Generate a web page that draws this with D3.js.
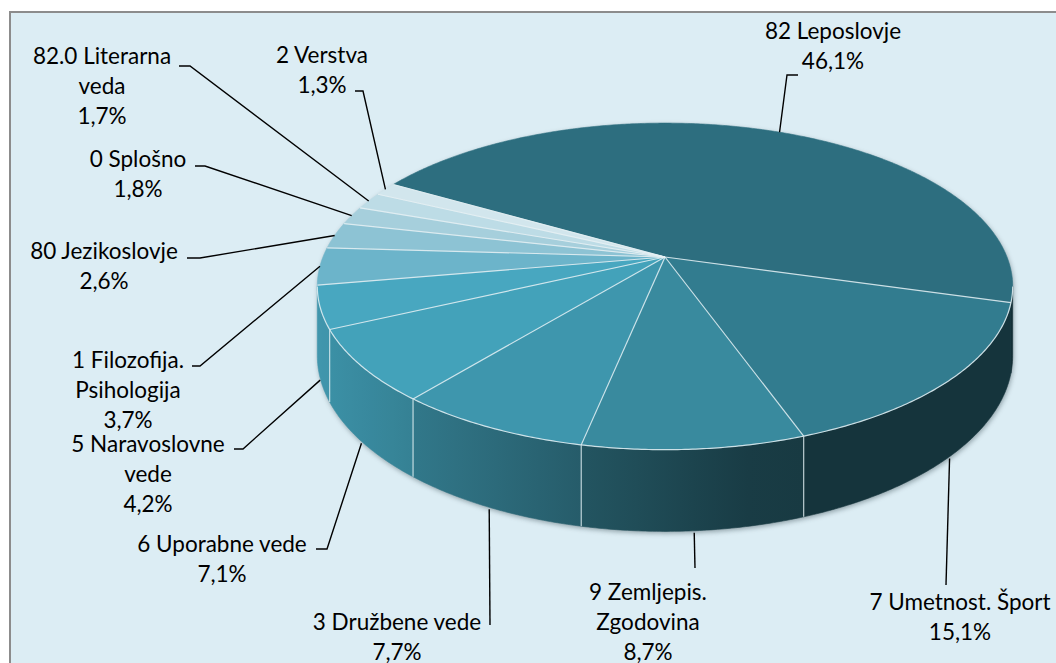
<!DOCTYPE html>
<html>
<head>
<meta charset="utf-8">
<script src="https://cdn.jsdelivr.net/npm/d3@7"></script>
<style>
  body { margin: 0; background: #fff; }
  svg { display: block; }
  .lbl { font-family: Lato, "Open Sans", sans-serif; font-size: 22.5px; fill: #000; }
</style>
</head>
<body>
<svg id="chart" width="1056" height="663"></svg>
<script>
// data, clockwise from the start angle
const categories = ["82 Leposlovje", "7 Umetnost. Šport", "9 Zemljepis. Zgodovina", "3 Družbene vede",
  "6 Uporabne vede", "5 Naravoslovne vede", "1 Filozofija. Psihologija", "80 Jezikoslovje",
  "0 Splošno", "82.0 Literarna veda", "2 Verstva"];
const shares = [46.1, 15.1, 8.7, 7.7, 7.1, 4.2, 3.7, 2.6, 1.8, 1.7, 1.3];

// palette (top face colours)
const palette = ["#2d6e7f", "#327c8f", "#398a9e", "#3e96ad", "#43a2ba", "#48a7c0",
  "#6cb4ca", "#8dc3d4", "#a6cfdc", "#bddce6", "#d2e6ed"];

// label layout: words on first line, text centre, first baseline, leader elbow + end
const labelLayout = [
  { words: 2, x: 833, y: 39, pts: [[787, 75], [798, 75]] },
  { words: 3, x: 960, y: 610, pts: [[946, 585]] },
  { words: 2, x: 648, y: 600, pts: [[695, 568]] },
  { words: 3, x: 397, y: 630, pts: [[490, 625]] },
  { words: 3, x: 222, y: 552, pts: [[327, 549], [316, 549]] },
  { words: 2, x: 148, y: 452, pts: [[243, 449], [234, 449]] },
  { words: 2, x: 128, y: 368, pts: [[200, 366], [192, 366]] },
  { words: 2, x: 104, y: 259, pts: [[200, 258], [187, 258]] },
  { words: 2, x: 138, y: 167, pts: [[205, 166], [195, 166]] },
  { words: 2, x: 102, y: 64, pts: [[190, 66], [179, 66]] },
  { words: 2, x: 322, y: 63, pts: [[363, 91], [355, 91]] }
];

const W = 1056, H = 663;
const CX = 665, CY = 257;      // apex of the slices
const A = 342, B = 158;        // radii of the top face
const P = 0.18;                // perspective
const T = 67;                  // thickness
const VIS0 = Math.acos(-P), VIS1 = 2 * Math.PI - Math.acos(-P); // visible side range

const svg = d3.select("#chart");
const defs = svg.append("defs");

svg.append("rect").attr("width", W).attr("height", H).attr("fill", "#fff");
svg.append("rect")
  .attr("x", 10).attr("y", 12).attr("width", W + 10).attr("height", H + 10)
  .attr("fill", "#dcedf4").attr("stroke", "#8c8c8c").attr("stroke-width", 2);

function proj(phi, h, r = 1) {
  const u = r * Math.sin(phi), v = -r * Math.cos(phi), k = 1 / (1 - P * v);
  return [CX + A * u * k, CY + (B * v + T * h) * k];
}
function arcPts(a0, a1, h) {
  const n = Math.max(2, Math.ceil(Math.abs(a1 - a0) / (Math.PI / 360)));
  return d3.range(n + 1).map(i => proj(a0 + (a1 - a0) * i / n, h));
}
const line = d3.line();

const pie = d3.pie().sort(null)
  .startAngle(-Math.PI / 3).endAngle(-Math.PI / 3 + 2 * Math.PI);
const arcs = pie(shares);

const fmt = d3.formatLocale({ decimal: ",", thousands: ".", grouping: [3], currency: ["", "€"] }).format(".1f");

// shade of side by horizontal position
const xL = proj(VIS1, 0)[0], xR = proj(VIS0, 0)[0];
const shadeAt = d3.scaleLinear().domain([xL, xL + 0.64 * (xR - xL), xR]).range([0.9, 0.42, 0.42]).clamp(true);
function shade(c, f) { const r = d3.rgb(c); return d3.rgb(r.r * f, r.g * f, r.b * f).formatHex(); }

// soft shadow of the body
defs.append("filter").attr("id", "blur").attr("x", "-10%").attr("y", "-10%").attr("width", "120%").attr("height", "120%")
  .append("feGaussianBlur").attr("stdDeviation", 2.5);
const bodyPts = arcPts(VIS0, VIS1, 1).concat(arcPts(VIS1, VIS0 + 2 * Math.PI, 0));
svg.append("path").attr("d", line(bodyPts) + "Z")
  .attr("transform", "translate(1,2)")
  .attr("fill", "#51646b").attr("opacity", 0.55).attr("filter", "url(#blur)");

// sides
const sides = svg.append("g");
arcs.forEach((d, i) => {
  let s = d.startAngle, e = d.endAngle;
  s = Math.max(s, VIS0); e = Math.min(e, VIS1);
  if (e <= s) return;
  const x1 = proj(s, 0)[0], x2 = proj(e, 0)[0];
  const g = defs.append("linearGradient").attr("id", "side" + i)
    .attr("gradientUnits", "userSpaceOnUse")
    .attr("x1", x1).attr("x2", x2).attr("y1", 0).attr("y2", 0);
  d3.range(5).forEach(j => {
    const x = x1 + (x2 - x1) * j / 4;
    g.append("stop").attr("offset", j / 4).attr("stop-color", shade(palette[i], shadeAt(x)));
  });
  const pts = arcPts(s, e, 0).concat(arcPts(e, s, 1));
  sides.append("path").attr("d", line(pts) + "Z").attr("fill", `url(#side${i})`)
    .attr("stroke", `url(#side${i})`).attr("stroke-width", 0.6);
});
// boundary lines on the side (skip the one right at the silhouette)
arcs.forEach(d => {
  const a = d.startAngle;
  const aa = a < 0 ? a + 2 * Math.PI : a;
  if (aa > VIS0 + 0.15 && aa < VIS1) {
    sides.append("path").attr("d", line([proj(aa, 0), proj(aa, 1)]))
      .attr("stroke", "#e4f0f4").attr("stroke-opacity", 0.8).attr("stroke-width", 1.2);
  }
});

// top faces
const tops = svg.append("g");
arcs.forEach((d, i) => {
  const pts = [[CX, CY]].concat(arcPts(d.startAngle, d.endAngle, 0));
  tops.append("path").attr("d", line(pts) + "Z")
    .attr("fill", palette[i])
    .attr("stroke", palette[i]).attr("stroke-width", 0.6);
});
arcs.forEach(d => {
  tops.append("path").attr("d", line([[CX, CY], proj(d.startAngle, 0)]))
    .attr("stroke", "#e6f1f4").attr("stroke-opacity", 0.85).attr("stroke-width", 1.2);
});
// rim on the front edge
tops.append("path").attr("d", line(arcPts(VIS0, VIS1, 0)))
  .attr("fill", "none").attr("stroke", "#e6f1f4").attr("stroke-opacity", 0.85).attr("stroke-width", 1.2);

// leaders and labels
const labels = svg.append("g");
arcs.forEach((d, i) => {
  let mid = (d.startAngle + d.endAngle) / 2;
  if (mid < 0) mid += 2 * Math.PI;
  const onSide = mid > VIS0 && mid < VIS1;
  const start = proj(mid, onSide ? 1 : 0);
  if (onSide) start[1] += 2;
  const lay = labelLayout[i];
  labels.append("path").attr("d", line([start].concat(lay.pts)))
    .attr("fill", "none").attr("stroke", "#000").attr("stroke-width", 1.4);

  const words = categories[i].split(" ");
  const rows = [words.slice(0, lay.words).join(" ")];
  if (words.length > lay.words) rows.push(words.slice(lay.words).join(" "));
  rows.push(fmt(shares[i]) + "%");
  const t = labels.append("text").attr("class", "lbl").attr("text-anchor", "middle");
  rows.forEach((r, j) => t.append("tspan").attr("x", lay.x).attr("y", lay.y + j * 30).text(r));
});
</script>
</body>
</html>
